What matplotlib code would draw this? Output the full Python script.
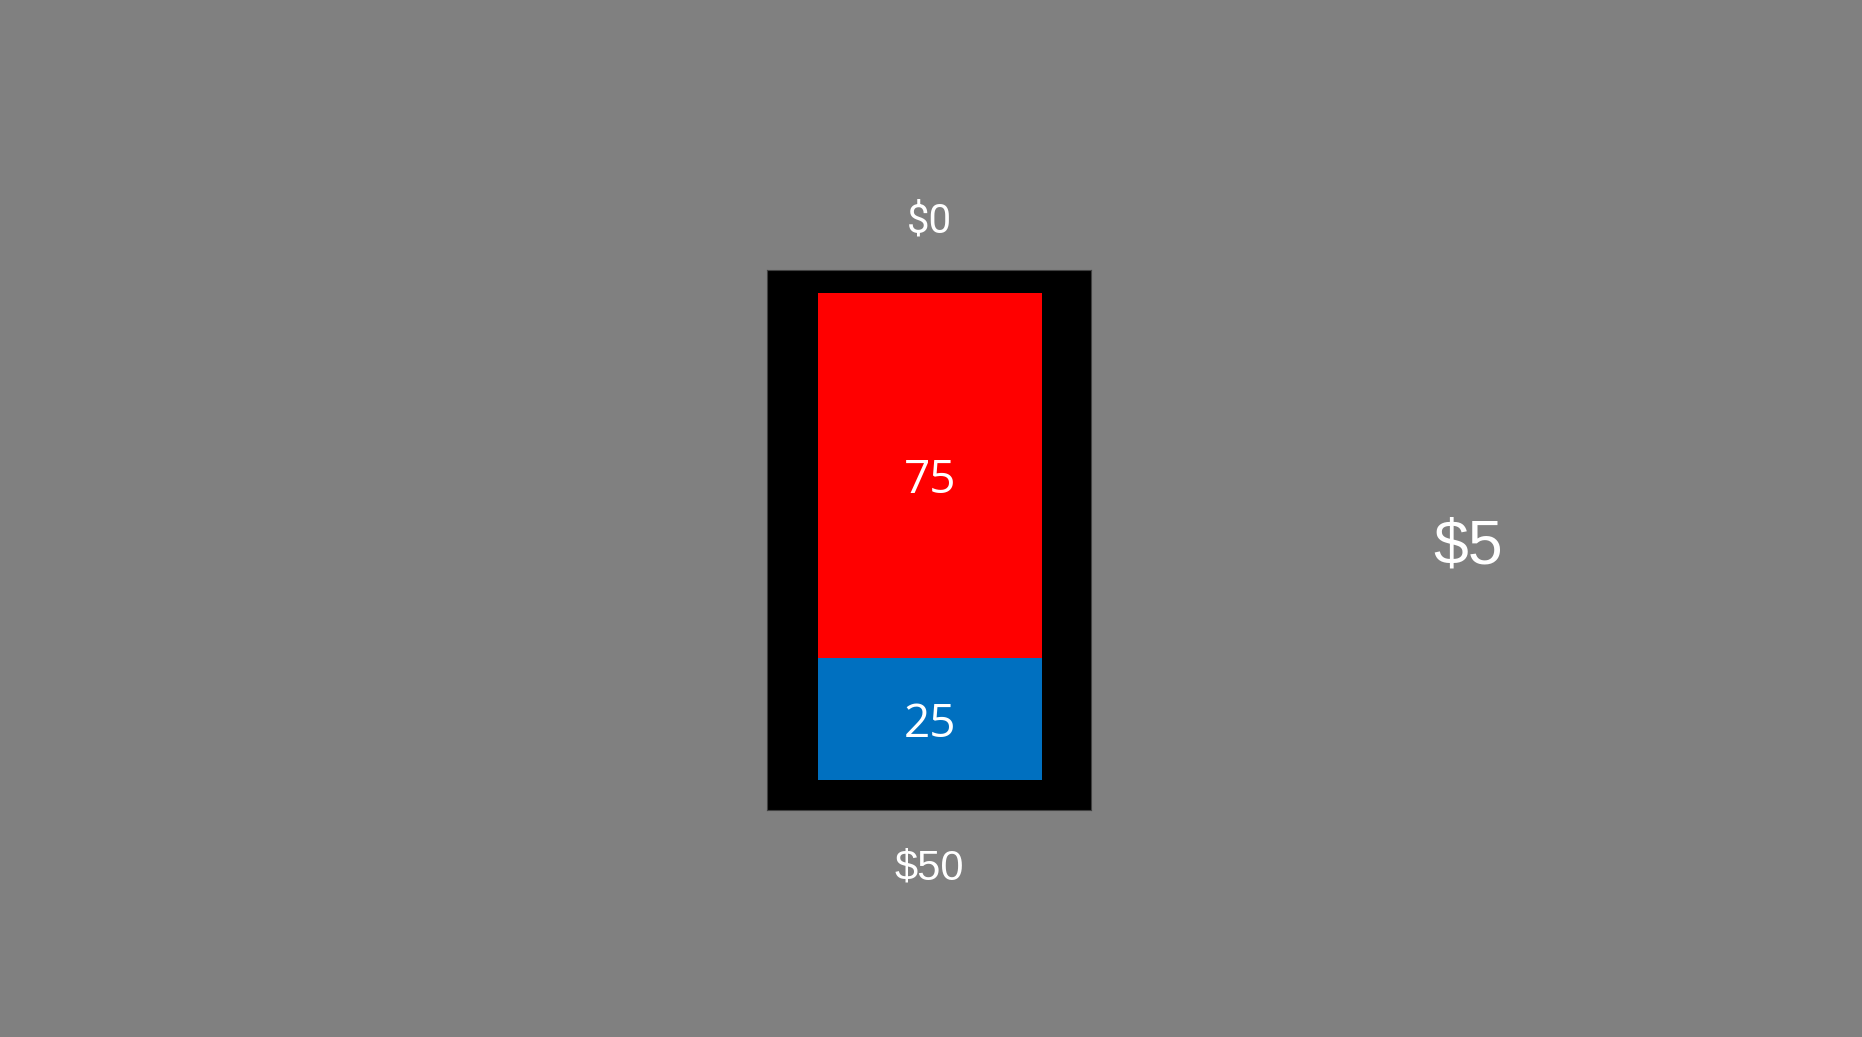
import matplotlib.pyplot as plt

# dados do gráfico
categorias = ["total"]
valores_base = [25]
valores_topo = [75]
cores = ["#0070C0", "#FF0000"]
rotulo_topo = "$0"
rotulo_base = "$50"
rotulo_lado = "$5"

fig = plt.figure(figsize=(18.62, 10.37), dpi=100)
fig.patch.set_facecolor("#808080")

# moldura preta atrás da barra
moldura = fig.add_axes([767 / 1862, 1 - 809.5 / 1037, (1091 - 767) / 1862, (809.5 - 270) / 1037])
moldura.set_facecolor("black")
moldura.set_xticks([])
moldura.set_yticks([])
for lado in moldura.spines.values():
    lado.set_color("#404040")
    lado.set_linewidth(0.8)

ax = fig.add_axes([818 / 1862, 1 - 780 / 1037, 224 / 1862, (780 - 292.7) / 1037])
ax.set_zorder(2)

barra_base = ax.bar(categorias, valores_base, width=1.0, color=cores[0])
barra_topo = ax.bar(categorias, valores_topo, bottom=valores_base, width=1.0, color=cores[1])

ax.set_xlim(-0.5, 0.5)
ax.set_ylim(0, sum(valores_base) + sum(valores_topo))
ax.axis("off")

# rótulos no centro de cada segmento
for barras, valores in [(barra_base, valores_base), (barra_topo, valores_topo)]:
    for ret, v in zip(barras, valores):
        cx = ret.get_x() + ret.get_width() / 2
        cy = ret.get_y() + ret.get_height() / 2
        ax.annotate(str(v), (cx, cy), xytext=(0, -4), textcoords="offset points",
                    color="white", fontsize=33, family="Open Sans",
                    ha="center", va="center")

fig.text(929 / 1862, 1 - 220.5 / 1037, rotulo_topo, color="white", fontsize=29,
         family="Roboto", ha="center", va="center")
fig.text(929 / 1862, 1 - 868 / 1037, rotulo_base, color="white", fontsize=30,
         family="Liberation Sans", ha="center", va="center")
fig.text(1468 / 1862, 1 - 547 / 1037, rotulo_lado, color="white", fontsize=45,
         family="Liberation Sans", ha="center", va="center")

fig.savefig("out.png", dpi=100, facecolor=fig.get_facecolor())
